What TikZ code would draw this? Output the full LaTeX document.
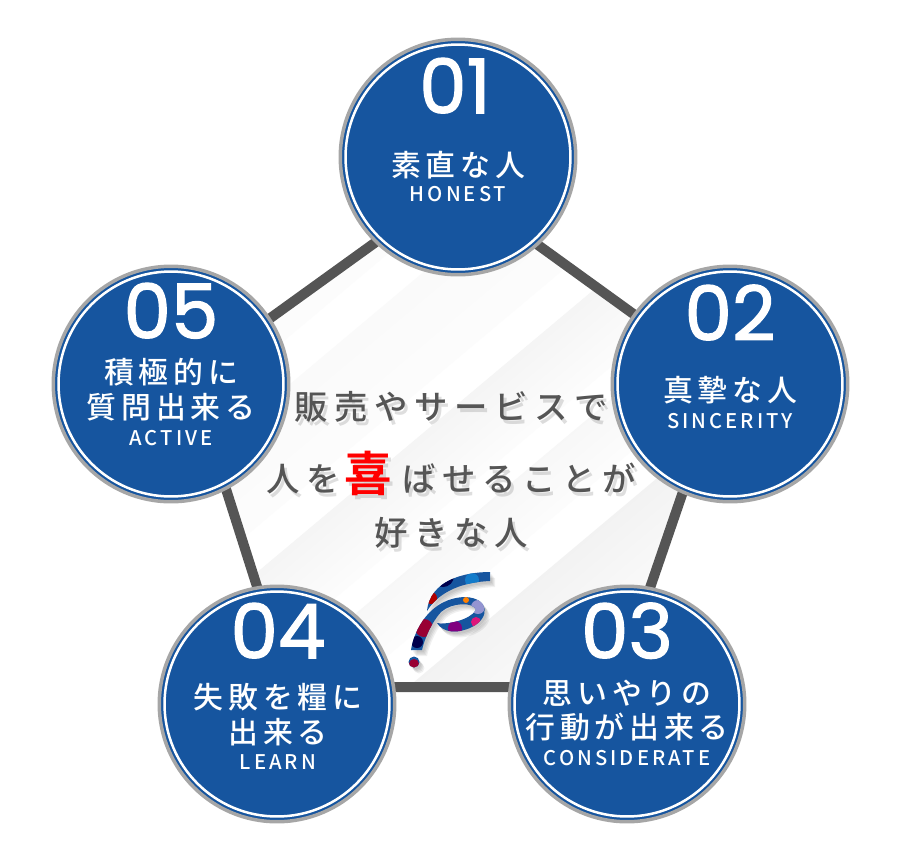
\documentclass[tikz,border=0pt]{standalone}
\usepackage{fontspec}
\setmainfont{Noto Sans CJK JP}
\newfontfamily\numfont[FakeBold=1.6]{Poppins}
\newfontfamily\jafont[LetterSpace=16]{Noto Sans CJK JP Medium}
\newfontfamily\enfont[LetterSpace=15]{Noto Sans CJK JP Medium}
\newfontfamily\leadfont[LetterSpace=20]{Noto Sans CJK JP Medium}
\newfontfamily\joyfont{Noto Sans CJK JP Bold}
\definecolor{discblue}{HTML}{16559F}
\definecolor{ringgray}{HTML}{A6A6A6}
\definecolor{edgegray}{HTML}{555555}
\definecolor{leadgray}{HTML}{555555}
\newcommand{\logoshape}{(490,572) .. controls (465,572) and (430,580) .. (427,611)
  .. controls (440,590) and (465,582) .. (490,581) -- cycle
  (411,650) .. controls (414,630) and (430,598) .. (465,597)
  .. controls (490,598) and (490,618) .. (472,627)
  .. controls (458,634) and (443,633) .. (437,623)
  .. controls (447,625) and (470,620) .. (476,610)
  .. controls (474,602) and (452,602) .. (441,612)
  .. controls (432,622) and (425,637) .. (422,650) -- cycle
  (414,662) circle (5.5)}
\tikzset{
  disc/.style={circle,fill=discblue,draw=ringgray,line width=0.07cm,minimum size=4.71cm,inner sep=0pt},
  ring/.style={circle,draw=white,line width=0.05cm,minimum size=4.5cm,inner sep=0pt},
  num/.style={text=white,inner sep=0pt,text height=30pt,text depth=0pt,font=\numfont\fontsize{43}{43}\selectfont},
  jalabel/.style={text=white,inner sep=0pt,text height=14pt,text depth=1pt,font=\jafont\fontsize{17}{17}\selectfont},
  enlabel/.style={text=white,inner sep=0pt,text height=8pt,text depth=0pt,font=\enfont\fontsize{11.5}{11.5}\selectfont},
  lead/.style={text=leadgray,inner sep=0pt,font=\leadfont\fontsize{19}{19}\selectfont},
  leadshadow/.style={text=black,opacity=0.13,inner sep=0pt,font=\leadfont\fontsize{19}{19}\selectfont},
}

\begin{document}
\begin{tikzpicture}[x=0.02cm,y=-0.02cm]
\useasboundingbox (0,0) rectangle (900,860);

% corners of the pentagon
\foreach \name/\x/\y in {p1/455/185,p2/722/378,p3/616/687,p4/289/687,p5/190/376}
  \coordinate (\name) at (\x,\y);

% the pentagon with its stripes
\fill[white] (p1) -- (p2) -- (p3) -- (p4) -- (p5) -- cycle;
\begin{scope}
\clip (p1) -- (p2) -- (p3) -- (p4) -- (p5) -- cycle;
\foreach \u/\v/\c in {-240/-175/2,-138/-50/2,-15/55/4,80/133/3,170/280/5}
  \shade[transform canvas={rotate around={-50:(450,430)}},left color=black!\c,right color=black!1]
    (450+\u,-100) rectangle (450+\v,1000);
\end{scope}
\draw[edgegray,line width=0.2cm] (p1) -- (p2) -- (p3) -- (p4) -- (p5) -- cycle;

% logo
\foreach \s in {2,3,4,5}
  \fill[black,opacity=0.06,shift={(\s,1.2*\s)}] \logoshape;
\begin{scope}
\clip \logoshape;
\fill[discblue] (400,560) rectangle (500,680);
\fill[black!70!blue] (443,576) circle (11);
\fill[red!70!black] (431,598) circle (6);
\fill[cyan!60!blue] (472,580) circle (7);
\fill[purple!80!black] (424,628) circle (9);
\fill[purple!80!black] (414,664) circle (5);
\fill[blue!40!gray!60] (478,607) circle (7);
\fill[orange] (466,600) circle (3);
\fill[violet] (455,628) circle (7);
\fill[magenta!70!purple] (476,622) circle (5);
\fill[black!70!blue] (417,642) circle (6);
\fill[blue!30!gray!50] (441,620) circle (4);
\end{scope}

% the discs
\foreach \n/\x/\y in {1/458/157,2/730/384,3/627/704,4/277/704,5/171/384}{
  \node[disc] (disc\n) at (\x,\y) {};
  \node[ring] (ring\n) at (disc\n) {};
}

% texts in the discs
\node[num] (num1) at (455,87) {01};
\node[jalabel] (ja1) at (458,165) {素直な人};
\node[enlabel] (en1) at (458,194) {HONEST};

\node[num] (num2) at (730,314) {02};
\node[jalabel] (ja2) at (730,390) {真摯な人};
\node[enlabel] (en2) at (730,421) {SINCERITY};

\node[num] (num3) at (627,632) {03};
\node[jalabel] (ja3) at (627,693) {思いやりの};
\node[jalabel] (ja3b) at (627,727) {行動が出来る};
\node[enlabel] (en3) at (627,758) {CONSIDERATE};

\node[num] (num4) at (278,632) {04};
\node[jalabel] (ja4) at (278,697) {失敗を糧に};
\node[jalabel] (ja4b) at (278,732) {出来る};
\node[enlabel] (en4) at (278,762) {LEARN};

\node[num] (num5) at (171,312) {05};
\node[jalabel] (ja5) at (171,372) {積極的に};
\node[jalabel] (ja5b) at (171,407) {質問出来る};
\node[enlabel] (en5) at (171,438) {ACTIVE};

% text in the middle, shadow first
\node[leadshadow] (shade1) at (454,411) {販売やサービスで};
\node[leadshadow] (shade2) at (454,477) {人を\hspace{0.15em}{\joyfont\fontsize{27}{27}\selectfont 喜}\hspace{0.3em}ばせることが};
\node[leadshadow] (shade3) at (454,537) {好きな人};
\node[lead] (lead1) at (451,407) {販売やサービスで};
\node[lead] (lead2) at (451,473) {人を\hspace{0.15em}{\color{red}\joyfont\fontsize{27}{27}\selectfont 喜}\hspace{0.3em}ばせることが};
\node[lead] (lead3) at (451,533) {好きな人};
\end{tikzpicture}
\end{document}
